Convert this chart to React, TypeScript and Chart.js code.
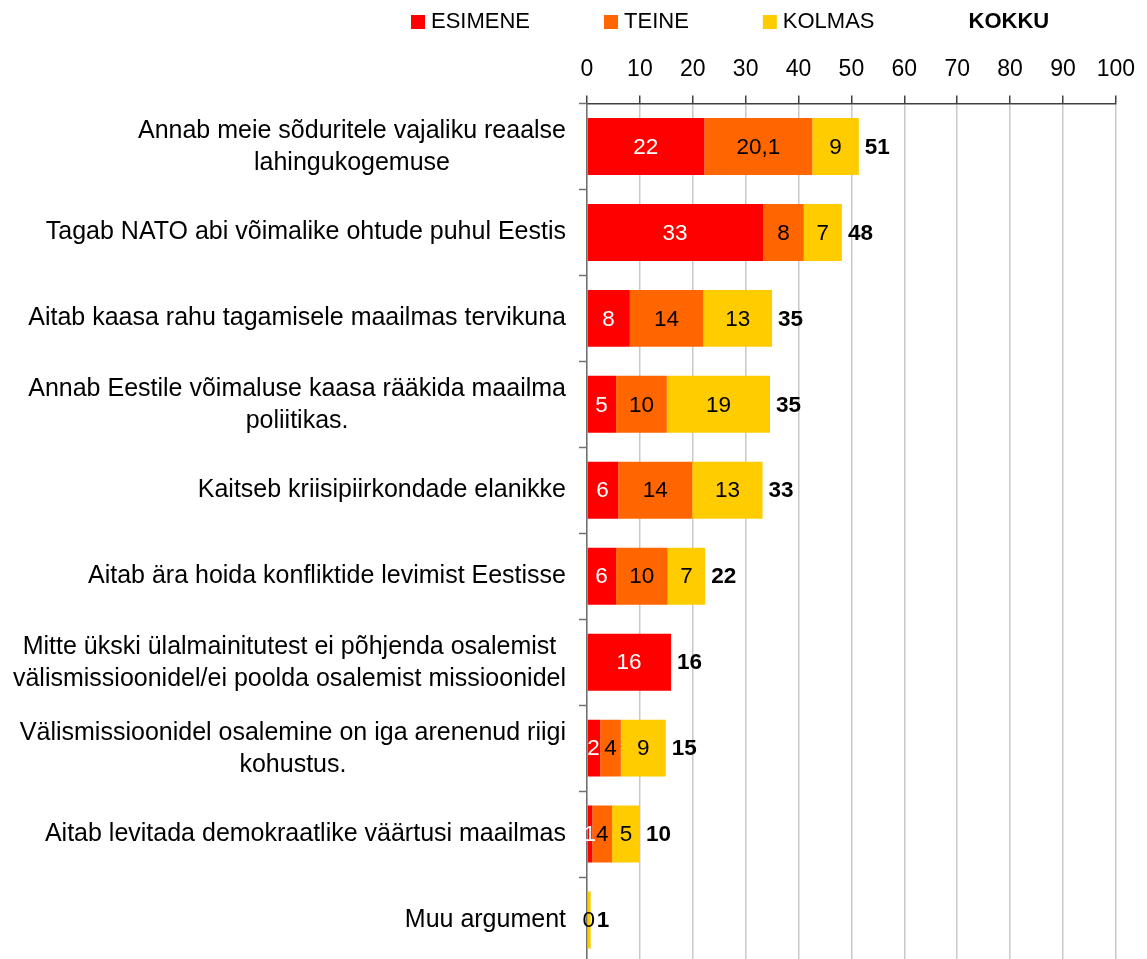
import React, { useEffect, useRef } from "react";
import { Chart, registerables } from "chart.js";

Chart.register(...registerables);

// ---- data ----
const categories: string[][] = [
  ["Annab meie sõduritele vajaliku reaalse", "lahingukogemuse"],
  ["Tagab NATO abi võimalike ohtude puhul Eestis"],
  ["Aitab kaasa rahu tagamisele maailmas tervikuna"],
  ["Annab Eestile võimaluse kaasa rääkida maailma", "poliitikas."],
  ["Kaitseb kriisipiirkondade elanikke"],
  ["Aitab ära hoida konfliktide levimist Eestisse"],
  ["Mitte ükski ülalmainitutest ei põhjenda osalemist", "välismissioonidel/ei poolda osalemist missioonidel"],
  ["Välismissioonidel osalemine on iga arenenud riigi", "kohustus."],
  ["Aitab levitada demokraatlike väärtusi maailmas"],
  ["Muu argument"],
];

const seriesNames = ["ESIMENE", "TEINE", "KOLMAS"];
const totalName = "KOKKU";

const esimene = [22.2, 33.3, 8.1, 5.5, 5.9, 5.5, 15.9, 2.5, 1.0, 0];
const teine = [20.4, 7.7, 13.9, 9.6, 14.0, 9.75, 0, 3.9, 3.75, 0];
const kolmas = [8.8, 7.2, 13.0, 19.5, 13.3, 7.1, 0, 8.5, 5.25, 0.7];

const esimeneLabels = ["22", "33", "8", "5", "6", "6", "16", "2", "1", ""];
const teineLabels = ["20,1", "8", "14", "10", "14", "10", "", "4", "4", ""];
const kolmasLabels = ["9", "7", "13", "19", "13", "7", "", "9", "5", "0"];
const totalLabels = ["51", "48", "35", "35", "33", "22", "16", "15", "10", "1"];

const xMin = 0;
const xMax = 100;
const xStep = 10;

// ---- styles ----
const FONT = '"Liberation Sans", Arial, sans-serif';
const colors = ["#FF0000", "#FF6600", "#FFCC00"];
const labelColors = ["#FFFFFF", "#000000", "#000000"];

const seriesValues = [esimene, teine, kolmas];
const seriesLabels = [esimeneLabels, teineLabels, kolmasLabels];

const labelsPlugin = {
  id: "customLabels",
  afterDatasetsDraw(chart: any) {
    const ctx = chart.ctx;
    const xs = chart.scales.x;
    const ys = chart.scales.y;
    ctx.save();
    ctx.textBaseline = "middle";
    for (let i = 0; i < categories.length; i++) {
      const y = ys.getPixelForValue(i);
      let acc = 0;
      for (let s = 0; s < seriesValues.length; s++) {
        const v = seriesValues[s][i];
        const txt = seriesLabels[s][i];
        const x0 = xs.getPixelForValue(acc);
        const x1 = xs.getPixelForValue(acc + v);
        acc += v;
        if (!txt) continue;
        ctx.font = `22.5px ${FONT}`;
        ctx.fillStyle = labelColors[s];
        ctx.textAlign = "center";
        ctx.fillText(txt, (x0 + x1) / 2, y + 1);
      }
      ctx.font = `bold 22.5px ${FONT}`;
      ctx.fillStyle = "#000";
      ctx.textAlign = "left";
      ctx.fillText(totalLabels[i], xs.getPixelForValue(acc) + 6, y + 1);
    }
    ctx.restore();
  },
  afterDraw(chart: any) {
    const ctx = chart.ctx;
    const ys = chart.scales.y;
    ctx.save();
    ctx.font = `25px ${FONT}`;
    ctx.fillStyle = "#000";
    ctx.textAlign = "center";
    ctx.textBaseline = "middle";
    const rightEdge = 566;
    const lh = 32;
    for (let i = 0; i < categories.length; i++) {
      const lines = categories[i];
      const w = Math.max(...lines.map((l) => ctx.measureText(l).width));
      const cx = rightEdge - w / 2;
      const yc = ys.getPixelForValue(i);
      const start = yc - ((lines.length - 1) * lh) / 2 + (lines.length > 1 ? 1 : 0);
      lines.forEach((l, k) => ctx.fillText(l, cx, start + k * lh));
    }
    // legend
    let x = 411;
    const boxY = 15;
    const box = 14;
    ctx.textAlign = "left";
    ctx.textBaseline = "alphabetic";
    for (let s = 0; s < seriesNames.length; s++) {
      ctx.fillStyle = colors[s];
      ctx.fillRect(x, boxY, box, box);
      ctx.font = `22px ${FONT}`;
      ctx.fillStyle = "#000";
      ctx.fillText(seriesNames[s], x + box + 6, 27.5);
      x += box + 6 + ctx.measureText(seriesNames[s]).width + 74;
    }
    ctx.font = `bold 22px ${FONT}`;
    ctx.fillStyle = "#000";
    ctx.fillText(totalName, x + box + 6, 27.5);
    ctx.restore();
  },
};

export default function App() {
  const ref = useRef<HTMLCanvasElement | null>(null);

  useEffect(() => {
    if (!ref.current) return;
    const chart = new Chart(ref.current, {
      type: "bar",
      data: {
        labels: categories,
        datasets: seriesNames.map((name, s) => ({
          label: name,
          data: seriesValues[s],
          backgroundColor: colors[s],
          borderWidth: 0,
          barPercentage: 0.663,
          categoryPercentage: 1,
        })),
      },
      options: {
        indexAxis: "y",
        responsive: false,
        animation: false,
        devicePixelRatio: 1,
        layout: { padding: { left: 0, right: 27, top: 0, bottom: 5 } },
        plugins: {
          legend: { display: false },
          tooltip: { enabled: false },
        },
        scales: {
          x: {
            type: "linear",
            position: "top",
            stacked: true,
            min: xMin,
            max: xMax,
            afterFit: (s: any) => {
              s.height = 103.5;
            },
            ticks: {
              stepSize: xStep,
              font: { family: FONT, size: 23 },
              color: "#000",
              padding: 12,
            },
            grid: {
              color: "#c8c8c8",
              lineWidth: 1.5,
              tickLength: 8,
              tickColor: "#404040",
              tickWidth: 1.5,
            },
            border: { color: "#404040", width: 1.5 },
          },
          y: {
            type: "category",
            stacked: true,
            afterFit: (s: any) => {
              s.width = 587;
            },
            ticks: { display: false },
            grid: {
              drawOnChartArea: false,
              tickLength: 8,
              tickColor: "#707070",
              tickWidth: 1.5,
              offset: true,
            },
            border: { color: "#707070", width: 1.5 },
          },
        },
      },
      plugins: [labelsPlugin],
    } as any);
    return () => chart.destroy();
  }, []);

  return (
    <div
      style={{
        position: "fixed",
        left: 0,
        top: 0,
        width: 1147,
        height: 959,
        overflow: "hidden",
        background: "#fff",
      }}
    >
      <canvas
        ref={ref}
        width={1147}
        height={968}
        style={{ display: "block", width: 1147, height: 968 }}
      />
    </div>
  );
}
